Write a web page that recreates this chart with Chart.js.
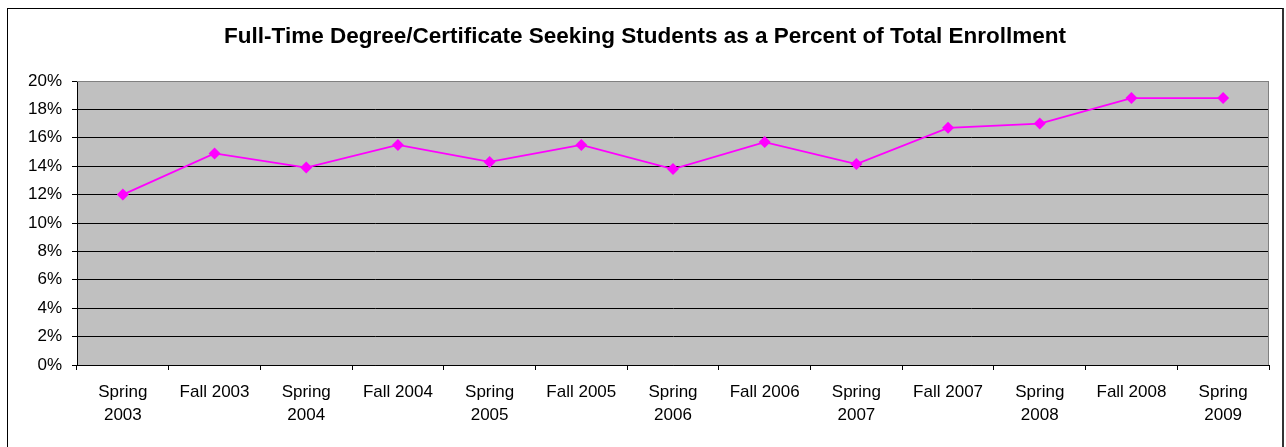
<!DOCTYPE html>
<html lang="en">
<head>
    <meta charset="UTF-8">
    <title>Full-Time Degree/Certificate Seeking Students</title>
    <script src="https://cdn.jsdelivr.net/npm/chart.js"></script>
    <style>
        body { margin: 0; background: #fff; }
        .moldura {
            position: absolute; left: 7px; top: 8px;
            width: 1274px; height: 460px;
            border: 1px solid #000; border-right: 2px solid #333;
        }
        .grafico { position: absolute; left: 0; top: 0; width: 1286px; height: 447px; }
    </style>
</head>
<body>
    <div class="moldura"></div>
    <div class="grafico"><canvas id="graficoMatricula" width="1286" height="447"></canvas></div>

<script>
    const semestres = [
        ["Spring", "2003"], "Fall 2003", ["Spring", "2004"], "Fall 2004",
        ["Spring", "2005"], "Fall 2005", ["Spring", "2006"], "Fall 2006",
        ["Spring", "2007"], "Fall 2007", ["Spring", "2008"], "Fall 2008",
        ["Spring", "2009"]
    ];
    const percentuais = [12.0, 14.9, 13.9, 15.5, 14.3, 15.5, 13.8, 15.7, 14.15, 16.7, 17.0, 18.8, 18.8];
    const ticksY = [0, 2, 4, 6, 8, 10, 12, 14, 16, 18, 20];

    // fundo cinza da area do grafico + borda cinza em cima e na direita
    const fundoPlot = {
        id: 'fundoPlot',
        beforeDraw(chart) {
            const { ctx, chartArea: a } = chart;
            ctx.save();
            ctx.fillStyle = '#c0c0c0';
            ctx.fillRect(a.left, a.top, a.right - a.left, a.bottom - a.top);
            ctx.restore();
        },
        beforeDatasetsDraw(chart) {
            const { ctx, chartArea: a } = chart;
            ctx.save();
            ctx.strokeStyle = '#808080';
            ctx.lineWidth = 1;
            ctx.beginPath();
            ctx.moveTo(a.left, a.top + 0.5);
            ctx.lineTo(a.right - 0.5, a.top + 0.5);
            ctx.lineTo(a.right - 0.5, a.bottom);
            ctx.stroke();
            ctx.restore();
        }
    };

    const config = {
        type: 'line',
        data: {
            labels: semestres,
            datasets: [{
                label: 'Percent',
                data: percentuais,
                borderColor: '#ff00ff',
                backgroundColor: '#ff00ff',
                borderWidth: 1.8,
                pointStyle: 'rectRot',
                pointRadius: 6,
                pointBorderWidth: 0,
                tension: 0
            }]
        },
        options: {
            responsive: false,
            animation: false,
            devicePixelRatio: 1,
            layout: { padding: { left: 21, right: 17, top: 0, bottom: 0 } },
            plugins: {
                legend: { display: false },
                tooltip: { enabled: false },
                title: {
                    display: true,
                    text: 'Full-Time Degree/Certificate Seeking Students as a Percent of Total Enrollment',
                    color: '#000',
                    font: { family: '"Liberation Sans", Arial, sans-serif', size: 22.5, weight: 'bold', lineHeight: 1.2 },
                    padding: { top: 23.5, bottom: 30.5 }
                }
            },
            scales: {
                x: {
                    offset: true,
                    afterFit(scale) { scale.height = 82; },
                    grid: {
                        offset: true,
                        drawOnChartArea: false,
                        drawTicks: true,
                        tickLength: 5,
                        color: '#000'
                    },
                    border: { color: '#000', width: 1 },
                    ticks: {
                        color: '#000',
                        padding: 10,
                        maxRotation: 0,
                        autoSkip: false,
                        font: { family: '"Liberation Sans", Arial, sans-serif', size: 17, lineHeight: 1.4 }
                    }
                },
                y: {
                    min: 0,
                    max: 20,
                    afterFit(scale) { scale.width = 56; },
                    afterBuildTicks(scale) { scale.ticks = ticksY.map(v => ({ value: v })); },
                    grid: {
                        color: (c) => c.tick && c.tick.value === 20 ? '#808080' : '#000',
                        tickLength: 5,
                        tickColor: '#000'
                    },
                    border: { color: '#000', width: 1 },
                    ticks: {
                        color: '#000',
                        padding: 10,
                        font: { family: '"Liberation Sans", Arial, sans-serif', size: 17 },
                        callback: (v) => v + '%'
                    }
                }
            }
        },
        plugins: [fundoPlot]
    };

    new Chart(document.getElementById('graficoMatricula'), config);
</script>
</body>
</html>
